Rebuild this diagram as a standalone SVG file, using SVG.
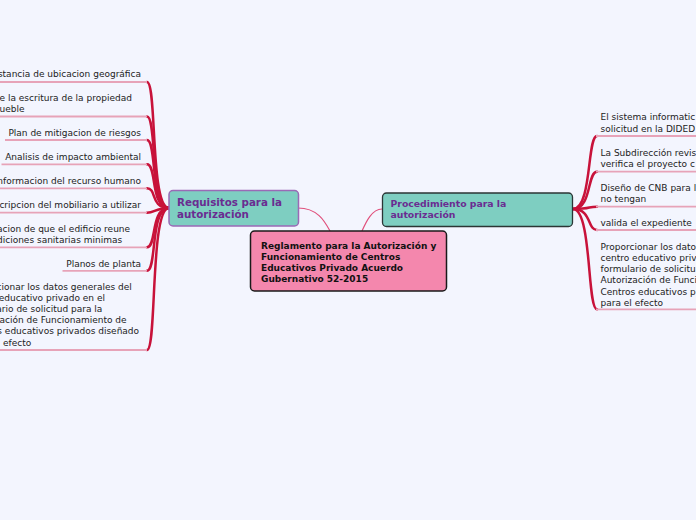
<svg xmlns="http://www.w3.org/2000/svg" width="696" height="520" viewBox="0 0 696 520">
<style>
.bg{fill:#f3f5fe}
.br{fill:none;stroke:#c8123a;stroke-width:2.5;stroke-linecap:round}
.cn{fill:none;stroke:#e0507c;stroke-width:1.2}
.ul{fill:none;stroke:#e7a3b8;stroke-width:1.8}
.t{font-family:"DejaVu Sans",Verdana,sans-serif;font-size:9px;fill:#222}
.te{font-family:"DejaVu Sans",Verdana,sans-serif;font-size:9px;fill:#222;text-anchor:end}
.main{fill:#f487ad;stroke:#1a1a1a;stroke-width:1.5}
.mt{font-family:"DejaVu Sans",Verdana,sans-serif;font-size:9px;font-weight:bold;fill:#111}
.sub{fill:#7ecec1}
.st{font-family:"DejaVu Sans",Verdana,sans-serif;font-weight:bold;fill:#6a2c91}
</style>
<rect class="bg" x="0" y="0" width="696" height="520"/>

<g id="connectors">
  <path class="cn" d="M298,208 C318,208 325,222 330,231"/>
  <path class="cn" d="M382,209 C372,209 366,222 362,231"/>
  <path class="br" d="M169,208 C150,208 157,82 147,82"/>
  <path class="br" d="M169,208 C150,208 157,116.5 147,116.5"/>
  <path class="br" d="M169,208 C150,208 157,140 147,140"/>
  <path class="br" d="M169,208 C150,208 157,164.3 147,164.3"/>
  <path class="br" d="M169,208 C150,208 157,188.3 147,188.3"/>
  <path class="br" d="M169,208 C155,208 155,212.7 147,212.7"/>
  <path class="br" d="M169,208 C150,208 157,247.3 147,247.3"/>
  <path class="br" d="M169,208 C150,208 157,270.8 147,270.8"/>
  <path class="br" d="M169,208 C150,208 157,350 147,350"/>
  <path class="br" d="M573,209 C592,209 587,136 597,136"/>
  <path class="br" d="M573,209 C592,209 587,171.7 597,171.7"/>
  <path class="br" d="M573,209 C592,209 587,206.7 597,206.7"/>
  <path class="br" d="M573,209 C592,209 587,230 597,230"/>
  <path class="br" d="M573,209 C592,209 587,309.3 597,309.3"/>
</g>

<g id="central">
  <rect class="main" x="250.5" y="231" width="196" height="60" rx="4"/>
  <text class="mt" x="261" y="248.5">Reglamento para la Autorización y</text>
  <text class="mt" x="261" y="259.7">Funcionamiento de Centros</text>
  <text class="mt" x="261" y="271">Educativos Privado Acuerdo</text>
  <text class="mt" x="261" y="282.3">Gubernativo 52-2015</text>
</g>

<g id="requisitos">
  <rect class="sub" x="169" y="190.5" width="129.5" height="35.5" rx="4" stroke="#9a6ab6" stroke-width="1.5"/>
  <text class="st" font-size="10.3" x="177" y="206.3">Requisitos para la</text>
  <text class="st" font-size="10.3" x="177" y="218.3">autorización</text>
</g>

<g id="procedimiento">
  <rect class="sub" x="382.5" y="193" width="190" height="33.5" rx="4" stroke="#2b3535" stroke-width="1.3"/>
  <text class="st" font-size="9.3" x="390.5" y="206.5">Procedimiento para la</text>
  <text class="st" font-size="9.3" x="390.5" y="218.3">autorización</text>
</g>

<g id="req-1">
  <path class="ul" d="M0,82 H147"/>
  <text class="te" x="141" y="77">stancia de ubicacion geográfica</text>
</g>
<g id="req-2">
  <path class="ul" d="M0,116.5 H147"/>
  <text class="t" x="-0.5" y="100.7">e la escritura de la propiedad</text>
  <text class="t" x="-0.5" y="112">ueble</text>
</g>
<g id="req-3">
  <path class="ul" d="M5,140 H147"/>
  <text class="te" x="141" y="135.7">Plan de mitigacion de riesgos</text>
</g>
<g id="req-4">
  <path class="ul" d="M1.5,164.3 H147"/>
  <text class="te" x="141" y="159.7">Analisis de impacto ambiental</text>
</g>
<g id="req-5">
  <path class="ul" d="M0,188.3 H147"/>
  <text class="te" x="141" y="183.7">nformacion del recurso humano</text>
</g>
<g id="req-6">
  <path class="ul" d="M0,212.7 H147"/>
  <text class="te" x="141" y="208">cripcion del mobiliario a utilizar</text>
</g>
<g id="req-7">
  <path class="ul" d="M0,247.3 H147"/>
  <text class="t" x="-3" y="232">acion de que el edificio reune</text>
  <text class="t" x="-3" y="243.2">diciones sanitarias minimas</text>
</g>
<g id="req-8">
  <path class="ul" d="M62.5,270.8 H147"/>
  <text class="te" x="141" y="267.3">Planos de planta</text>
</g>
<g id="req-9">
  <path class="ul" d="M0,350 H147"/>
  <text class="t" x="-3.4" y="289.5">cionar los datos generales del</text>
  <text class="t" x="-1.2" y="300.7">educativo privado en el</text>
  <text class="t" x="-3.7" y="312">ario de solicitud para la</text>
  <text class="t" x="-0.5" y="323.2">ación de Funcionamiento de</text>
  <text class="t" x="-2.7" y="334.4">s educativos privados diseñado</text>
  <text class="t" x="3" y="345.6">efecto</text>
</g>

<g id="proc-1">
  <path class="ul" d="M596,136 H696"/>
  <text class="t" x="600.5" y="120.3">El sistema informatic</text>
  <text class="t" x="600.5" y="131.6">solicitud en la DIDED</text>
</g>
<g id="proc-2">
  <path class="ul" d="M596,171.7 H696"/>
  <text class="t" x="600.5" y="155.7">La Subdirección revis</text>
  <text class="t" x="600.5" y="167">verifica el proyecto c</text>
</g>
<g id="proc-3">
  <path class="ul" d="M596,206.7 H696"/>
  <text class="t" x="600.5" y="191.3">Diseño de CNB para l</text>
  <text class="t" x="600.5" y="202.4">no tengan</text>
</g>
<g id="proc-4">
  <path class="ul" d="M596,230 H696"/>
  <text class="t" x="600.5" y="225.7">valida el expediente</text>
</g>
<g id="proc-5">
  <path class="ul" d="M596,309.3 H696"/>
  <text class="t" x="600.5" y="249.7">Proporcionar los dato</text>
  <text class="t" x="600.5" y="260.9">centro educativo priv</text>
  <text class="t" x="600.5" y="272.1">formulario de solicitu</text>
  <text class="t" x="600.5" y="283.3">Autorización de Funci</text>
  <text class="t" x="600.5" y="294.5">Centros educativos p</text>
  <text class="t" x="600.5" y="305.7">para el efecto</text>
</g>
</svg>
